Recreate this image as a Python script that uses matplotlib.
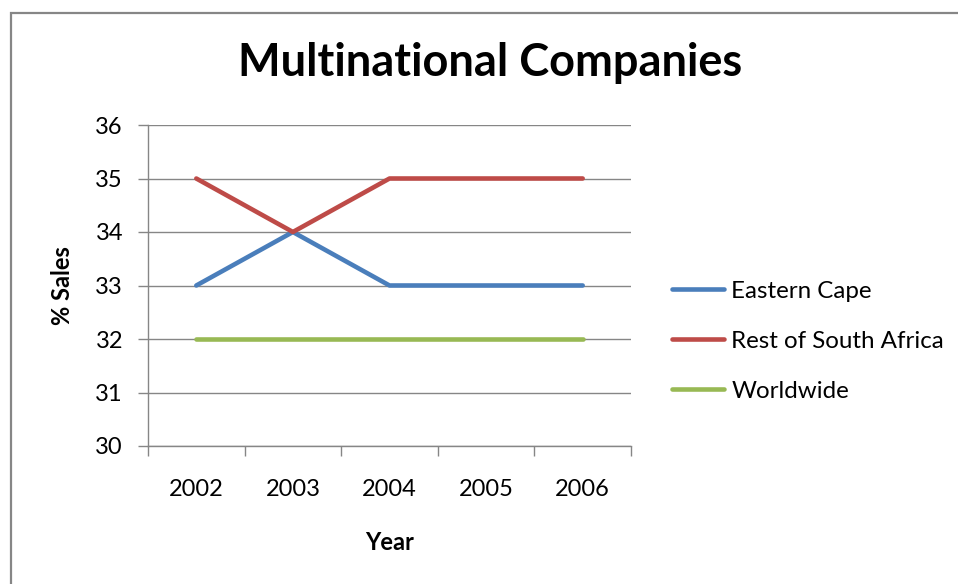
import numpy as np
import matplotlib.pyplot as plt
from matplotlib.patches import Rectangle

years = ['2002', '2003', '2004', '2005', '2006']
eastern_cape = [33, 34, 33, 33, 33]
rest_of_sa = [35, 34, 35, 35, 35]
worldwide = [32, 32, 32, 32, 32]
y_ticks = [30, 31, 32, 33, 34, 35, 36]

plt.rcParams['font.family'] = ['Lato', 'DejaVu Sans']

fig = plt.figure(figsize=(9.58, 5.84), dpi=100)
W, H = 958, 584
# chart border, running off the right and bottom edges
fig.patches.append(Rectangle((10.5 / W, -0.1), 1.2, 1 - 12.5 / H + 0.1,
                             transform=fig.transFigure, fill=False,
                             edgecolor='#868686', linewidth=1.6))

ax = fig.add_axes([148 / W, 1 - 446 / H, (631 - 148) / W, (446 - 125) / H])

x = np.arange(len(years))
lw = 3.3
ax.plot(x, eastern_cape, color='#4A7EBB', lw=lw, solid_capstyle='round', label='Eastern Cape')
ax.plot(x, rest_of_sa, color='#BE4B48', lw=lw, solid_capstyle='round', label='Rest of South Africa')
ax.plot(x, worldwide, color='#98B954', lw=lw, solid_capstyle='round', label='Worldwide')

ax.set_xlim(-0.5, len(years) - 0.5)
ax.set_ylim(30, 36)
ax.set_yticks(y_ticks)
ax.yaxis.grid(True, color='#868686', lw=1)
ax.set_axisbelow(True)

# category boundaries get tick marks, labels sit between them
ax.set_xticks(np.arange(-0.5, len(years), 1.0))
ax.set_xticklabels([])
ax.set_xticks(x, minor=True)
ax.set_xticklabels(years, minor=True)
ax.tick_params(axis='x', which='major', length=7, color='#868686', width=1)
ax.tick_params(axis='x', which='minor', length=0, pad=24, labelsize=17)
ax.tick_params(axis='y', length=7, color='#868686', width=1, labelsize=17, pad=11)

for s in ['top', 'right']:
    ax.spines[s].set_visible(False)
for s in ['left', 'bottom']:
    ax.spines[s].set_color('#868686')
    ax.spines[s].set_linewidth(1)

ax.set_xlabel('Year', fontsize=17, fontweight='bold', labelpad=22)
ax.set_ylabel('% Sales', fontsize=17, fontweight='bold', labelpad=15)

fig.text(490 / W, 1 - 63 / H, 'Multinational Companies', fontsize=32.5,
         fontweight='bold', ha='center', va='center')

fig.legend(loc='center left', bbox_to_anchor=(672 / W, 1 - 341 / H),
           frameon=False, fontsize=17.4, handlelength=2.15, handletextpad=0.3,
           labelspacing=1.2, borderpad=0, borderaxespad=0)

fig.savefig('out.png', dpi=100)
